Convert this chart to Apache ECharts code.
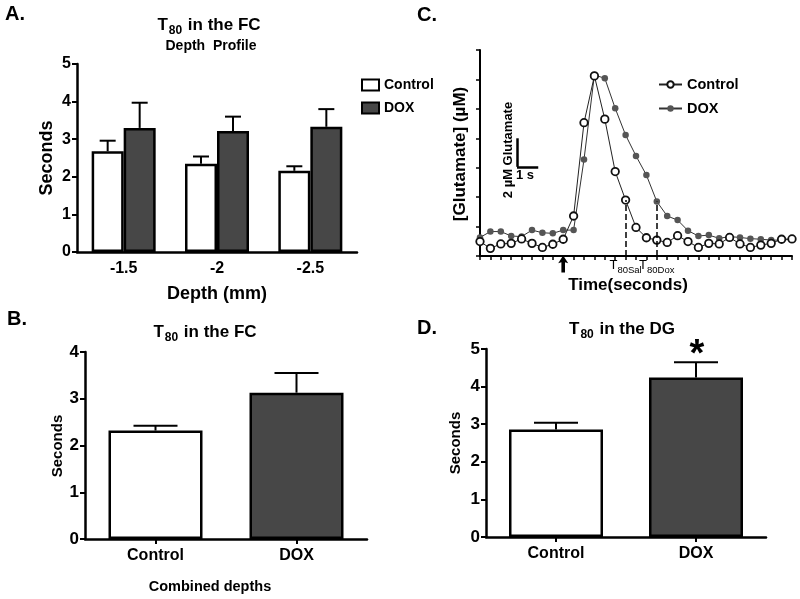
<!DOCTYPE html>
<html><head><meta charset="utf-8">
<script src="https://cdn.jsdelivr.net/npm/echarts@6/dist/echarts.min.js"></script>
<style>html,body{margin:0;padding:0;background:#fff}#c{width:800px;height:599px}</style>
</head><body><div id="c"></div>
<script>
// ---------- Panel A: T80 in the FC, depth profile ----------
const depthCats = ['-1.5', '-2', '-2.5'];
const aControl = [2.68, 2.35, 2.16];
const aControlSem = [0.28, 0.19, 0.12];
const aDox = [3.30, 3.22, 3.33];
const aDoxSem = [0.67, 0.38, 0.47];
// ---------- Panel B: combined depths ----------
const groupCats = ['Control', 'DOX'];
const bMeans = [2.32, 3.13];
const bSem = [0.10, 0.42];
// ---------- Panel D: T80 in the DG ----------
const dMeans = [2.86, 4.24];
const dSem = [0.18, 0.41];
// ---------- Panel C: glutamate trace ----------
const cControl = [0.49,0.26,0.41,0.43,0.58,0.43,0.29,0.40,0.57,1.36,4.53,6.12,4.65,2.87,1.90,0.97,0.62,0.54,0.46,0.69,0.49,0.29,0.43,0.41,0.63,0.41,0.29,0.37,0.43,0.57,0.58];
const cDox = [0.63,0.83,0.83,0.68,0.66,0.88,0.79,0.77,0.88,0.88,3.28,6.15,6.04,5.02,4.11,3.40,2.75,1.85,1.36,1.22,0.86,0.68,0.71,0.60,0.66,0.63,0.59,0.57,0.54,0.54,0.57];
const t80Sal = [14, 1.90];
const t80Dox = [17, 1.85];
const injectionAt = 8;
const scaleBar = {x: 3.56, y: 3.03, dx: 2.04, dy: 0.97};

const FONT = '"Liberation Sans", Arial, sans-serif';
const BLACK = '#000';
const DARK = '#474747';

const chart = echarts.init(document.getElementById('c'));

function errSeries(name, xi, yi, means, sems, offset, hw) {
  return {
    type: 'custom', name: name, xAxisIndex: xi, yAxisIndex: yi, z: 1, silent: true,
    data: means.map((m, i) => [i, m, m + sems[i]]),
    renderItem: function (params, api) {
      const p0 = api.coord([api.value(0), api.value(1)]);
      const p1 = api.coord([api.value(0), api.value(2)]);
      const x = p0[0] + offset;
      return {type: 'group', children: [
        {type: 'line', shape: {x1: x, y1: p0[1], x2: x, y2: p1[1]}, style: {stroke: BLACK, lineWidth: 2}},
        {type: 'line', shape: {x1: x - hw, y1: p1[1], x2: x + hw, y2: p1[1]}, style: {stroke: BLACK, lineWidth: 2}}
      ]};
    }
  };
}

function catAxis(gi, data, fs, ticks) {
  return {
    type: 'category', gridIndex: gi, data: data,
    axisLine: {lineStyle: {color: BLACK, width: 2.5}},
    axisTick: {show: ticks, alignWithLabel: true, length: 5, lineStyle: {color: BLACK, width: 2}},
    axisLabel: {color: BLACK, fontFamily: FONT, fontWeight: 'bold', fontSize: fs, margin: 9},
    splitLine: {show: false}
  };
}
function valAxis(gi, max, fs) {
  return {
    type: 'value', gridIndex: gi, min: 0, max: max, interval: 1,
    axisLine: {show: true, lineStyle: {color: BLACK, width: 2.5}},
    axisTick: {show: true, length: 5, lineStyle: {color: BLACK, width: 2}},
    axisLabel: {color: BLACK, fontFamily: FONT, fontWeight: 'bold', fontSize: fs, margin: 6},
    splitLine: {show: false}
  };
}

function txt(text, x, y, size, opts) {
  opts = opts || {};
  return {
    type: 'text', x: x, y: y, rotation: opts.rot || 0, silent: true,
    style: {
      text: text, fill: BLACK, font: 'bold ' + size + 'px ' + FONT,
      align: opts.align || 'center', verticalAlign: 'middle',
      rich: opts.rich
    }
  };
}
const titleRich = {
  b: {fontFamily: FONT, fontWeight: 'bold', fontSize: 17, color: BLACK, verticalAlign: 'bottom'},
  s: {fontFamily: FONT, fontWeight: 'bold', fontSize: 12, color: BLACK, verticalAlign: 'bottom', padding: [0, 1, -3, 1]}
};
const t80Rich = {
  t: {fontFamily: FONT, fontSize: 13, color: BLACK, verticalAlign: 'bottom'},
  s: {fontFamily: FONT, fontSize: 9.5, color: BLACK, verticalAlign: 'bottom', padding: [0, 0, -3, 0]}
};

const option = {
  backgroundColor: '#fff',
  animation: false,
  grid: [
    {left: 77, top: 64, width: 280, height: 188},
    {left: 85, top: 352, width: 282, height: 187},
    {left: 480, top: 50, width: 312, height: 206},
    {left: 486, top: 349, width: 280, height: 188}
  ],
  xAxis: [
    catAxis(0, depthCats, 16, false),
    catAxis(1, groupCats, 16, true),
    {
      type: 'value', gridIndex: 2, min: 0, max: 30, interval: 1,
      axisLine: {lineStyle: {color: BLACK, width: 2}},
      axisTick: {show: true, length: 4, lineStyle: {color: BLACK, width: 1.5}},
      axisLabel: {show: false}, splitLine: {show: false}
    },
    catAxis(3, groupCats, 16, true)
  ],
  yAxis: [
    valAxis(0, 5, 16),
    valAxis(1, 4, 17),
    {
      type: 'value', gridIndex: 2, min: 0, max: 7, interval: 1,
      axisLine: {show: true, lineStyle: {color: BLACK, width: 2}},
      axisTick: {show: true, length: 4, lineStyle: {color: BLACK, width: 1.5}},
      axisLabel: {show: false}, splitLine: {show: false}
    },
    valAxis(3, 5, 17)
  ],
  legend: [
    {
      left: 356, top: 73, orient: 'vertical', itemGap: 9, itemWidth: 17, itemHeight: 11,
      textStyle: {color: BLACK, fontFamily: FONT, fontWeight: 'bold', fontSize: 14},
      data: [
        {name: 'Control', icon: 'rect', itemStyle: {color: '#fff', borderColor: BLACK, borderWidth: 2}},
        {name: 'DOX', icon: 'rect', itemStyle: {color: DARK, borderColor: BLACK, borderWidth: 2}}
      ]
    },
    {
      left: 653, top: 72, orient: 'vertical', itemGap: 9, itemWidth: 23, itemHeight: 8,
      textStyle: {color: BLACK, fontFamily: FONT, fontWeight: 'bold', fontSize: 14.5},
      formatter: n => n.replace(' (C)', ''),
      data: ['Control (C)', 'DOX (C)']
    }
  ],
  series: [
    // Panel A bars
    {
      type: 'bar', name: 'Control', xAxisIndex: 0, yAxisIndex: 0, data: aControl,
      barWidth: 32, barGap: '0%', z: 2,
      itemStyle: {color: '#fff', borderColor: BLACK, borderWidth: 2.5}
    },
    {
      type: 'bar', name: 'DOX', xAxisIndex: 0, yAxisIndex: 0, data: aDox,
      barWidth: 32, barGap: '0%', z: 2,
      itemStyle: {color: DARK, borderColor: BLACK, borderWidth: 2.5}
    },
    errSeries('errAc', 0, 0, aControl, aControlSem, -16, 8),
    errSeries('errAd', 0, 0, aDox, aDoxSem, 16, 8),
    // Panel B
    {
      type: 'bar', name: 'B', xAxisIndex: 1, yAxisIndex: 1, barWidth: 94, z: 2,
      data: bMeans.map((v, i) => ({value: v, itemStyle: {color: i === 0 ? '#fff' : DARK}})),
      itemStyle: {borderColor: BLACK, borderWidth: 2.5}
    },
    errSeries('errB', 1, 1, bMeans, bSem, 0, 22),
    // Panel D
    {
      type: 'bar', name: 'D', xAxisIndex: 3, yAxisIndex: 3, barWidth: 94, z: 2,
      data: dMeans.map((v, i) => ({value: v, itemStyle: {color: i === 0 ? '#fff' : DARK}})),
      itemStyle: {borderColor: BLACK, borderWidth: 2.5}
    },
    errSeries('errD', 3, 3, dMeans, dSem, 0, 22),
    // Panel C
    {
      type: 'line', name: 'DOX (C)', xAxisIndex: 2, yAxisIndex: 2, z: 3,
      data: cDox.map((v, i) => [i, v]),
      symbol: 'circle', symbolSize: 6.5,
      itemStyle: {color: '#555', borderColor: '#555', borderWidth: 0},
      lineStyle: {color: '#333', width: 1},
      markPoint: {
        silent: true,
        data: [{
          coord: [injectionAt, 0],
          symbol: 'path://M5,0 L10,9 L6.8,8 L6.8,20 L3.2,20 L3.2,8 L0,9 Z',
          symbolSize: [10, 17], symbolOffset: [0, 8],
          itemStyle: {color: BLACK}, label: {show: false}
        }]
      }
    },
    {
      type: 'line', name: 'Control (C)', xAxisIndex: 2, yAxisIndex: 2, z: 4,
      data: cControl.map((v, i) => [i, v]),
      symbol: 'circle', symbolSize: 7.5,
      itemStyle: {color: '#fff', borderColor: '#111', borderWidth: 1.8},
      lineStyle: {color: '#222', width: 1},
      markLine: {
        silent: true, symbol: 'none',
        data: [
          [{coord: [t80Sal[0], 0], label: {show: true, position: 'start', distance: 3, formatter: '{t|T}{s|80Sal}', rich: t80Rich}, lineStyle: {type: 'dashed', color: BLACK, width: 1.5}},
           {coord: [t80Sal[0], t80Sal[1]]}],
          [{coord: [t80Dox[0], 0], label: {show: true, position: 'start', distance: 3, formatter: '{t|T}{s|80Dox}', rich: t80Rich}, lineStyle: {type: 'dashed', color: BLACK, width: 1.5}},
           {coord: [t80Dox[0], t80Dox[1]]}],
          [{coord: [scaleBar.x, scaleBar.y + scaleBar.dy], label: {show: false}, lineStyle: {type: 'solid', color: BLACK, width: 2.5}},
           {coord: [scaleBar.x, scaleBar.y]}],
          [{coord: [scaleBar.x, scaleBar.y], label: {show: false}, lineStyle: {type: 'solid', color: BLACK, width: 2.5}},
           {coord: [scaleBar.x + scaleBar.dx, scaleBar.y]}]
        ]
      }
    }
  ],
  graphic: [
    txt('A.', 5, 14, 20, {align: 'left'}),
    txt('B.', 7, 319, 20, {align: 'left'}),
    txt('C.', 417, 15, 20, {align: 'left'}),
    txt('D.', 417, 328, 20, {align: 'left'}),
    txt('{b|T}{s|80}{b| in the FC}', 209, 25, 17, {rich: titleRich}),
    txt('Depth  Profile', 211, 46, 14),
    txt('Seconds', 47, 158, 18, {rot: Math.PI / 2}),
    txt('Depth (mm)', 217, 294, 18),
    txt('{b|T}{s|80}{b| in the FC}', 205, 332, 17, {rich: titleRich}),
    txt('Seconds', 58, 446, 15, {rot: Math.PI / 2}),
    txt('Combined depths', 210, 587, 14.5),
    txt('{b|T}{s|80}{b| in the DG}', 622, 329, 17, {rich: titleRich}),
    txt('Seconds', 456, 443, 15, {rot: Math.PI / 2}),
    txt('*', 697, 356, 38),
    txt('[Glutamate] (\u00b5M)', 460, 154, 17, {rot: Math.PI / 2}),
    txt('2 \u00b5M Glutamate', 508, 150, 13, {rot: Math.PI / 2}),
    txt('1 s', 525, 175, 13),
    txt('Time(seconds)', 628, 285, 17)
  ]
};
chart.setOption(option);
</script>
</body></html>
